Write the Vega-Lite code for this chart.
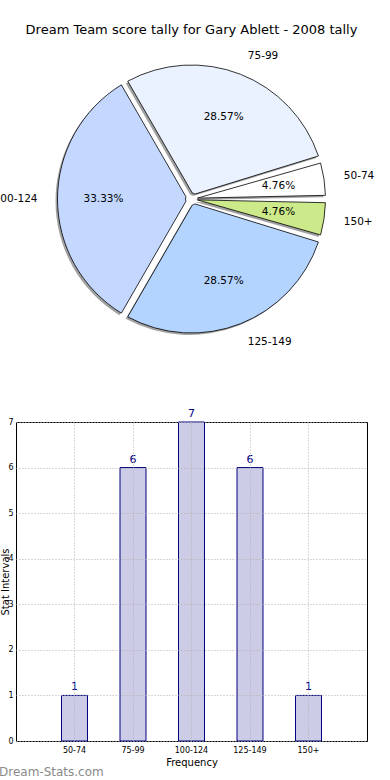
{
  "$schema": "https://vega.github.io/schema/vega-lite/v6.json",
  "padding": {"left": -7, "top": 23, "right": 0, "bottom": 0},
  "bounds": "flush",
  "spacing": 75,
  "config": {"font": "DejaVu Sans", "view": {"stroke": null}},
  "datasets": {
    "tally": [
      {"bin": "50-74", "lo": 50, "count": 1, "share": 0.0476},
      {"bin": "75-99", "lo": 75, "count": 6, "share": 0.2857},
      {"bin": "100-124", "lo": 100, "count": 7, "share": 0.3333},
      {"bin": "125-149", "lo": 125, "count": 6, "share": 0.2857},
      {"bin": "150+", "lo": 150, "count": 1, "share": 0.0476}
    ]
  },
  "vconcat": [
    {
      "width": 351,
      "height": 296,
      "title": {"text": "Dream Team score tally for Gary Ablett - 2008 tally", "fontSize": 13, "fontWeight": "normal", "color": "black", "offset": 14},
      "data": {"name": "tally"},
      "encoding": {
        "theta": {"field": "count", "type": "quantitative", "stack": true, "scale": {"range": [1.5708, 7.854]}},
        "order": {"field": "lo", "sort": "descending"}
      },
      "layer": [
        {"mark": {"type": "arc", "radius": 134, "radius2": 6, "padAngle": 0.055, "fill": "#555", "opacity": 0.55, "xOffset": -2, "yOffset": 2}},
        {
          "mark": {"type": "arc", "radius": 134, "radius2": 6, "padAngle": 0.055, "stroke": "black", "strokeWidth": 0.8},
          "encoding": {
            "color": {"field": "bin", "type": "nominal", "legend": null,
              "scale": {"domain": ["50-74", "75-99", "100-124", "125-149", "150+"], "range": ["#ffffff", "#eaf2ff", "#c4d8ff", "#b3d4ff", "#cdea8a"]}}
          }
        },
        {
          "mark": {"type": "text", "radius": 88, "fontSize": 10.5, "fill": "black"},
          "encoding": {"text": {"field": "share", "type": "quantitative", "format": ".2%"}}
        },
        {
          "mark": {"type": "text", "radius": 154, "align": "left", "baseline": "middle", "fontSize": 10.5, "fill": "black"},
          "encoding": {"text": {"condition": {"test": "datum.bin !== '100-124'", "field": "bin"}, "value": ""}}
        },
        {
          "mark": {"type": "text", "radius": 154, "align": "right", "baseline": "middle", "fontSize": 10.5, "fill": "black"},
          "encoding": {"text": {"condition": {"test": "datum.bin === '100-124'", "field": "bin"}, "value": ""}}
        }
      ]
    },
    {
      "width": 351,
      "height": 319,
      "view": {"stroke": "black", "strokeWidth": 1},
      "title": {"text": "Dream-Stats.com", "orient": "bottom", "anchor": "start", "frame": "group", "dx": -17, "offset": 0, "fontSize": 12, "fontWeight": "normal", "color": "#8a8a8a"},
      "data": {"name": "tally"},
      "encoding": {
        "x": {"field": "bin", "type": "nominal", "sort": {"field": "lo", "op": "min"},
          "scale": {"paddingInner": 0.556, "paddingOuter": 0.778},
          "axis": {"title": "Frequency", "labelAngle": 0, "labelFontSize": 8, "labelColor": "black", "titleFontSize": 10, "titleFontWeight": "normal", "titleColor": "black", "titlePadding": 3, "tickSize": 0, "labelPadding": 5, "domain": false, "grid": true, "gridDash": [1, 2], "gridColor": "#b0b0b0", "zindex": 1}},
        "y": {"field": "count", "type": "quantitative", "scale": {"domain": [0, 7]},
          "axis": {"title": "Stat Intervals", "values": [0, 1, 2, 3, 4, 5, 6, 7], "labelFontSize": 8, "labelColor": "black", "titleFontSize": 10, "titleFontWeight": "normal", "titleColor": "black", "titleX": -6, "titleBaseline": "bottom", "tickSize": 0, "labelPadding": 3, "domain": false, "grid": true, "gridDash": [1, 2], "gridColor": "#b0b0b0", "zindex": 1}}
      },
      "layer": [
        {"mark": {"type": "bar", "fill": "#ccccE6", "stroke": "#000080", "strokeWidth": 1}},
        {"mark": {"type": "text", "dy": -3, "baseline": "bottom", "fill": "#000080", "fontSize": 11}, "encoding": {"text": {"field": "count", "type": "quantitative"}}}
      ]
    }
  ]
}
